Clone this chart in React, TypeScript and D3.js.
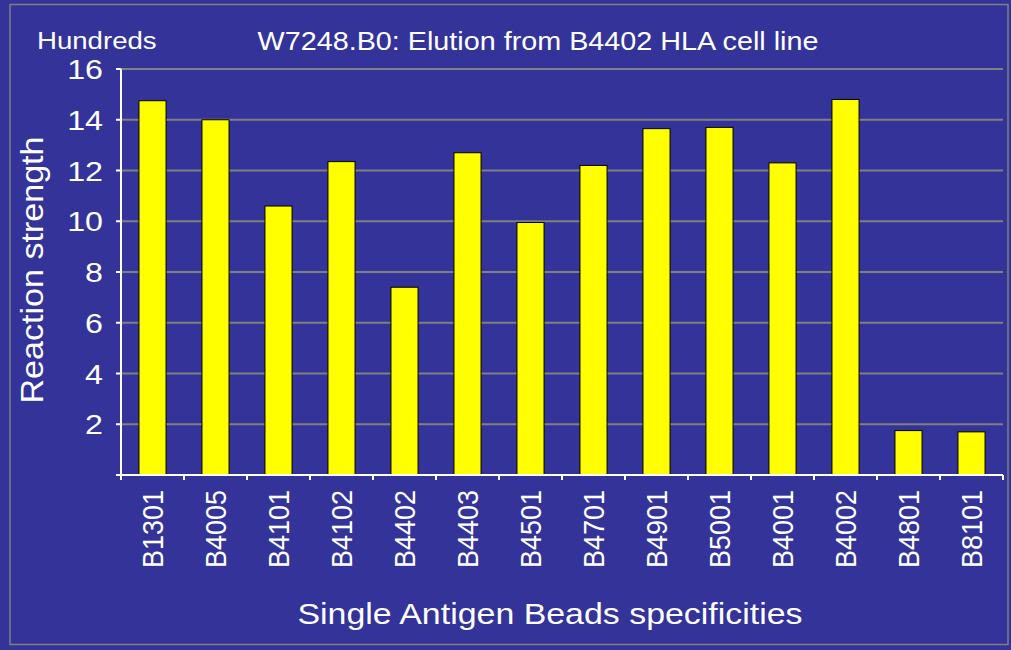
import React from "react";
import * as d3 from "d3";

const categories = ["B1301", "B4005", "B4101", "B4102", "B4402", "B4403", "B4501", "B4701", "B4901", "B5001", "B4001", "B4002", "B4801", "B8101"];
const values = [14.75, 14.0, 10.6, 12.35, 7.4, 12.7, 9.95, 12.2, 13.65, 13.7, 12.3, 14.8, 1.75, 1.7];
const yTicks = [2, 4, 6, 8, 10, 12, 14, 16];

const W = 1011;
const H = 650;
const margin = { left: 121, right: 8, top: 69, bottom: 175 };
// the source picture is a bit wider than tall, so horizontal text is stretched
const SX = 1.15;

export default function App() {
  const x = d3
    .scaleBand()
    .domain(categories)
    .range([margin.left, W - margin.right])
    .paddingInner(0.57)
    .paddingOuter(0.285);
  const y = d3.scaleLinear().domain([0, 16]).range([H - margin.bottom, margin.top]);
  const step = (W - margin.right - margin.left) / categories.length;
  const font = "'Liberation Sans', Arial, sans-serif";

  return (
    <svg width={W} height={H} style={{ position: "absolute", left: 0, top: 0 }} fontFamily={font}>
      <rect x={0} y={0} width={W} height={H} fill="#333399" />
      <rect x={10} y={4.5} width={998} height={640} fill="none" stroke="#808080" strokeWidth={1.5} />
      {yTicks.map((t) => (
        <line key={t} x1={margin.left} x2={W - margin.right} y1={y(t)} y2={y(t)} stroke="#808080" strokeWidth={2} />
      ))}
      {categories.map((c, i) => (
        <rect
          key={c}
          x={x(c)}
          y={y(values[i])}
          width={x.bandwidth()}
          height={y(0) - y(values[i])}
          fill="#ffff00"
          stroke="#000"
          strokeWidth={1}
        />
      ))}
      {/* y axis */}
      <line x1={margin.left} x2={margin.left} y1={y(16)} y2={y(0) + 5} stroke="#fff" strokeWidth={2} />
      {[0, ...yTicks].map((t) => (
        <line key={t} x1={margin.left - 5} x2={margin.left} y1={y(t)} y2={y(t)} stroke="#fff" strokeWidth={2} />
      ))}
      {yTicks.map((t) => (
        <text
          key={t}
          transform={`translate(${margin.left - 18},${y(t)}) scale(${SX},1)`}
          dy="0.36em"
          textAnchor="end"
          fill="#fff"
          fontSize={28}
        >
          {t}
        </text>
      ))}
      {/* x axis */}
      <line x1={margin.left} x2={W - margin.right} y1={y(0)} y2={y(0)} stroke="#fff" strokeWidth={2} />
      {d3.range(categories.length + 1).map((i) => (
        <line
          key={i}
          x1={margin.left + i * step}
          x2={margin.left + i * step}
          y1={y(0)}
          y2={y(0) + 5}
          stroke="#fff"
          strokeWidth={2}
        />
      ))}
      {categories.map((c) => {
        const cx = (x(c) ?? 0) + x.bandwidth() / 2;
        return (
          <text
            key={c}
            transform={`translate(${cx},${y(0) + 15}) rotate(-90) scale(1,1.08)`}
            textAnchor="end"
            dy="0.36em"
            fill="#fff"
            fontSize={27}
          >
            {c}
          </text>
        );
      })}
      <text transform={`translate(37,49) scale(${SX},1)`} fill="#fff" fontSize={24}>Hundreds</text>
      <text transform={`translate(538,50) scale(${SX},1)`} textAnchor="middle" fill="#fff" fontSize={25}>
        W7248.B0: Elution from B4402 HLA cell line
      </text>
      <text transform={`translate(43,270) rotate(-90) scale(1.065,1)`} textAnchor="middle" fill="#fff" fontSize={32}>
        Reaction strength
      </text>
      <text transform={`translate(550,624) scale(${SX},1)`} textAnchor="middle" fill="#fff" fontSize={29.5}>
        Single Antigen Beads specificities
      </text>
    </svg>
  );
}
